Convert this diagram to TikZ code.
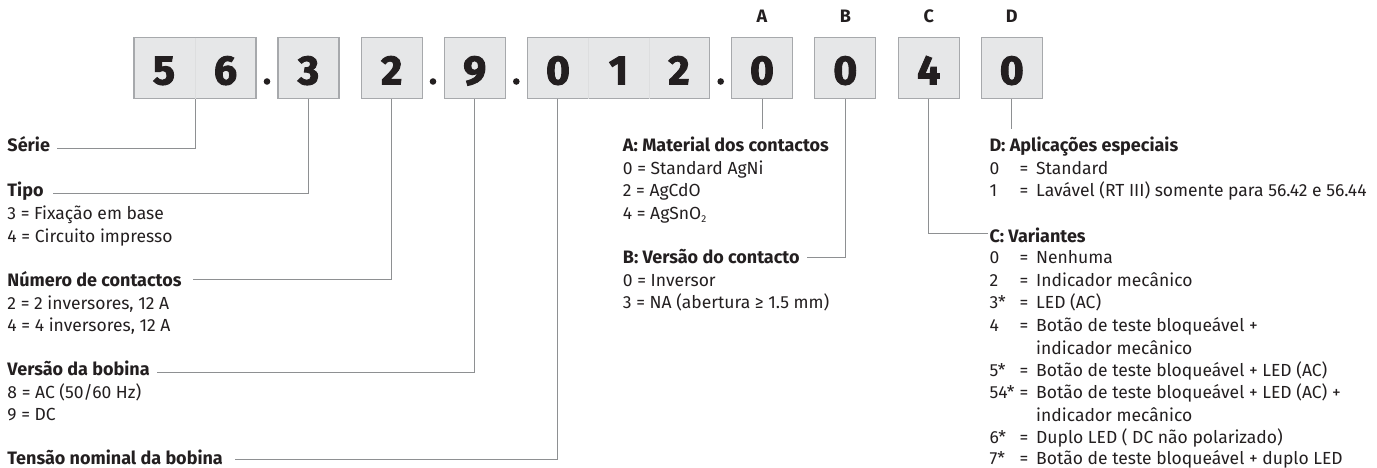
\documentclass[tikz,border=0pt]{standalone}
\usepackage{fontspec}
\setmainfont{Fira Sans}
\newfontfamily\digitfont[RawFeature={embolden=2.3}]{Fira Sans Bold}
\definecolor{ink}{HTML}{231F20}
\definecolor{boxfill}{HTML}{E6E7E8}
\definecolor{boxline}{HTML}{A7A9AC}
\definecolor{divline}{HTML}{DDDEDF}
\definecolor{connline}{HTML}{8E9092}
\begin{document}
\begin{tikzpicture}[x=1pt,y=-1pt,
  dbox/.style={draw=boxline,fill=boxfill,line width=1.2pt,minimum width=61pt,minimum height=61pt,inner sep=0pt},
  digit/.style={anchor=base,inner sep=0pt,text=ink,font=\fontsize{41}{44}\digitfont},
  letter/.style={anchor=base,inner sep=0pt,text=ink,font=\fontsize{18}{20}\selectfont\bfseries},
  sepdot/.style={circle,fill=ink,inner sep=0pt,minimum size=6.6pt},
  conn/.style={draw=connline,line width=1pt},
  divider/.style={draw=divline,line width=0.5pt},
  txt/.style={anchor=base west,inner sep=0pt,text=ink,font=\fontsize{17.5}{20}\selectfont},
  head/.style={txt,font=\fontsize{18}{20}\selectfont\bfseries}]
\useasboundingbox (0,0) rectangle (1377,468);

% code boxes
\node[dbox,minimum width=122pt] (b56) at (195,68.2) {};
\node[dbox] (b3) at (308.5,68.2) {};
\node[dbox] (b2) at (391.7,68.2) {};
\node[dbox] (b9) at (474.8,68.2) {};
\node[dbox,minimum width=181.6pt] (b012) at (618.5,68.2) {};
\node[dbox] (bA) at (762,68.2) {};
\node[dbox] (bB) at (845.3,68.2) {};
\node[dbox] (bC) at (928.8,68.2) {};
\node[dbox] (bD) at (1011.8,68.2) {};

% faint cell dividers
\draw[divider] ([yshift=-0.6pt]b56.north) -- ([yshift=0.6pt]b56.south);
\draw[divider] ([xshift=-30.3pt,yshift=-0.6pt]b012.north) -- ([xshift=-30.3pt,yshift=0.6pt]b012.south);
\draw[divider] ([xshift=30.3pt,yshift=-0.6pt]b012.north) -- ([xshift=30.3pt,yshift=0.6pt]b012.south);

% digits
\node[digit] (n5) at (164,84.4) {5};
\node[digit] (n6) at (225.5,84.4) {6};
\node[digit] (n3) at (308.5,84.4) {3};
\node[digit] (n2) at (391.7,84.4) {2};
\node[digit] (n9) at (474.8,84.4) {9};
\node[digit] (n0a) at (558,84.4) {0};
\node[digit] (n1) at (618.5,84.4) {1};
\node[digit] (n2b) at (679,84.4) {2};
\node[digit] (nA) at (762,84.4) {0};
\node[digit] (nB) at (845.3,84.4) {0};
\node[digit] (nC) at (928.8,84.4) {4};
\node[digit] (nD) at (1011.8,84.4) {0};

% separator dots
\node[sepdot] (d1) at (267,81.5) {};
\node[sepdot] (d2) at (433,81.5) {};
\node[sepdot] (d3) at (516.3,81.5) {};
\node[sepdot] (d4) at (720.7,81.5) {};

% letters
\node[letter] (lA) at (762,22.7) {A};
\node[letter] (lB) at (845.3,22.7) {B};
\node[letter] (lC) at (928.8,22.7) {C};
\node[letter] (lD) at (1011.8,22.7) {D};

% left column
\node[head] (serie) at (7.3,152) {Série};
\node[head] (tipo) at (7.3,196.7) {Tipo};
\node[txt] (tipo3) at (7.3,219.3) {3 = Fixação em base};
\node[txt] (tipo4) at (7.3,242) {4 = Circuito impresso};
\node[head] (num) at (7.3,286) {Número de contactos};
\node[txt] (num2) at (7.3,309.3) {2 = 2 inversores, 12 A};
\node[txt] (num4) at (7.3,331.3) {4 = 4 inversores, 12 A};
\node[head] (versao) at (7.3,375.3) {Versão da bobina};
\node[txt] (versao8) at (7.3,398.3) {8 = AC (50/60 Hz)};
\node[txt] (versao9) at (7.3,420) {9 = DC};
\node[head] (tensao) at (7.3,464.6) {Tensão nominal da bobina};

% middle column
\node[head] (matA) at (622.7,151.7) {A: Material dos contactos};
\node[txt] (mat0) at (622.7,174.3) {0 = Standard AgNi};
\node[txt] (mat2) at (622.7,196.7) {2 = AgCdO};
\node[txt] (mat4) at (622.7,219.3) {4 = AgSnO\raisebox{-3pt}{\fontsize{10}{10}\selectfont 2}};
\node[head] (verB) at (622.7,263.3) {B: Versão do contacto};
\node[txt] (ver0) at (622.7,286) {0 = Inversor};
\node[txt] (ver3) at (622.7,308.3) {3 = NA (abertura ≥ 1.5 mm)};

% right column
\newcommand{\itm}[2]{\makebox[30pt][l]{#1}\makebox[16.7pt][l]{=}#2}
\node[head] (apD) at (989.3,151.7) {D: Aplicações especiais};
\node[txt] (ap0) at (989.3,174.3) {\itm{0}{Standard}};
\node[txt] (ap1) at (989.3,196.7) {\itm{1}{Lavável (RT III) somente para 56.42 e 56.44}};
\node[head] (varC) at (989.3,242) {C: Variantes};
\node[txt] (v0) at (989.3,263.7) {\itm{0}{Nenhuma}};
\node[txt] (v2) at (989.3,286) {\itm{2}{Indicador mecânico}};
\node[txt] (v3) at (989.3,308.3) {\itm{3*}{LED (AC)}};
\node[txt] (v4) at (989.3,331.7) {\itm{4}{Botão de teste bloqueável +}};
\node[txt] (v4b) at (1036,354.3) {indicador mecânico};
\node[txt] (v5) at (989.3,376.7) {\itm{5*}{Botão de teste bloqueável + LED (AC)}};
\node[txt] (v54) at (989.3,398.7) {\itm{54*}{Botão de teste bloqueável + LED (AC) +}};
\node[txt] (v54b) at (1036,421) {indicador mecânico};
\node[txt] (v6) at (989.3,443.3) {\itm{6*}{Duplo LED ( DC não polarizado)}};
\node[txt] (v7) at (989.3,464.3) {\itm{7*}{Botão de teste bloqueável + duplo LED}};

% connector end points
\coordinate (serieL) at (57.3,149);
\coordinate (tipoL) at (52.7,193.3);
\coordinate (numL) at (192.7,279);
\coordinate (versaoL) at (156.7,372.3);
\coordinate (tensaoL) at (235,459);
\coordinate (b012first) at (557.3,98.7);
\coordinate (aEnd) at (762,129.3);
\coordinate (bL) at (806.7,257.3);
\coordinate (cR) at (988.3,233.3);
\coordinate (dEnd) at (1011.8,129.3);

% connectors
\draw[conn] (b56.south) |- (serieL);
\draw[conn] (b3.south) |- (tipoL);
\draw[conn] (b2.south) |- (numL);
\draw[conn] (b9.south) |- (versaoL);
\draw[conn] (b012first) |- (tensaoL);
\draw[conn] (bA.south) -- (aEnd);
\draw[conn] (bB.south) |- (bL);
\draw[conn] (bC.south) |- (cR);
\draw[conn] (bD.south) -- (dEnd);
\end{tikzpicture}
\end{document}
